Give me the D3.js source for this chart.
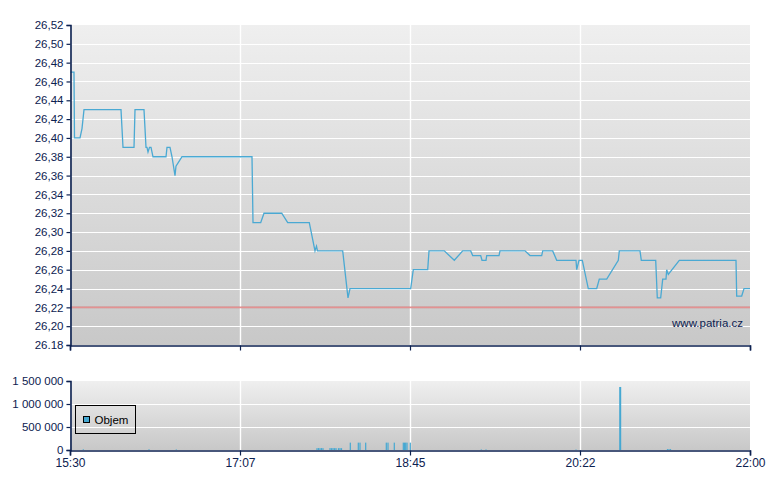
<!DOCTYPE html>
<html>
<head>
<meta charset="utf-8">
<script src="https://cdn.jsdelivr.net/npm/d3@7"></script>
<style>
  body { margin: 0; background: #fff; }
  svg { display: block; font-family: "Liberation Sans", Arial, sans-serif; }
  .axis path, .axis line { stroke: #0c2150; }
  .axis text { fill: #0c2150; }
</style>
</head>
<body>
<svg id="chart" width="780" height="490"></svg>
<script>
// minutes after 15:30 and price
const priceMinutes = [0.3, 2.29, 2.58, 5.74, 6.88, 8.03, 29.25, 30.4, 36.71, 37.28, 42.44, 43.59, 44.16, 44.74,
  45.6, 46.46, 47.6, 48.75, 55.06, 55.63, 57.35, 58.5, 60.22, 60.79, 64.24, 104.38, 104.96, 109.37, 111.26,
  121.42, 124.86, 137.24, 140.51, 141.37, 141.95, 156.4, 159.44, 160.59, 195.4, 196.89, 205.15, 205.9, 214.67,
  220.41, 225.22, 229.81, 230.96, 235.55, 236.29, 238.59, 238.99, 246.04, 246.62, 260.96, 263.82, 270.53,
  271.11, 276.84, 279.14, 290.21, 290.61, 291.93, 293.82, 297.26, 302.08, 303.57, 307.82, 314.47, 315.04,
  326.91, 327.66, 335.92, 336.83, 338.78, 339.93, 341.82, 342.22, 343.14, 349.45, 381.97, 382.37, 385.24,
  386.56, 390];
const priceValues = [26.47, 26.47, 26.40, 26.40, 26.41, 26.43, 26.43, 26.39, 26.39, 26.43, 26.43, 26.39, 26.39, 26.385,
  26.39, 26.39, 26.38, 26.38, 26.38, 26.39, 26.39, 26.38, 26.36, 26.37, 26.38, 26.38, 26.31, 26.31, 26.32,
  26.32, 26.31, 26.31, 26.28, 26.285, 26.28, 26.28, 26.23, 26.24, 26.24, 26.26, 26.26, 26.28, 26.28,
  26.27, 26.28, 26.28, 26.275, 26.275, 26.27, 26.27, 26.275, 26.275, 26.28, 26.28, 26.275, 26.275,
  26.28, 26.28, 26.27, 26.27, 26.26, 26.27, 26.27, 26.24, 26.24, 26.25, 26.25, 26.27, 26.28,
  26.28, 26.27, 26.27, 26.23, 26.23, 26.25, 26.25, 26.26, 26.255, 26.27, 26.27, 26.232, 26.232,
  26.24, 26.24];
const referencePrice = 26.22;

const volumeMinutes = [7.63, 45.31, 60.97, 141.66, 142.52, 143.38, 144.24, 145.1, 149.12, 149.98, 150.84, 151.7,
  152.56, 153.99, 154.85, 155.71, 160.76, 165.35, 166.32, 169.59, 181.41, 182.38, 185.99, 191.16, 191.85,
  192.53, 193.28, 195.17, 235.89, 238.59, 290.21, 315.33, 315.79, 342.68, 343.54, 344.4];
const volumeValues = [15000, 15000, 12000, 40000, 42000, 40000, 42000, 40000, 42000, 40000, 42000, 40000,
  42000, 40000, 42000, 40000, 160000, 160000, 160000, 160000, 160000, 160000, 160000, 160000, 160000,
  160000, 160000, 160000, 12000, 12000, 10000, 1370000, 1370000, 20000, 20000, 20000];

const priceTicks = [26.18, 26.20, 26.22, 26.24, 26.26, 26.28, 26.30, 26.32, 26.34, 26.36, 26.38, 26.40,
  26.42, 26.44, 26.46, 26.48, 26.50, 26.52];
const priceTickLabels = ["26.18", "26,20", "26,22", "26,24", "26,26", "26,28", "26,30", "26,32", "26,34",
  "26,36", "26,38", "26,40", "26,42", "26,44", "26,46", "26,48", "26,50", "26,52"];
const volumeTicks = [0, 500000, 1000000, 1500000];
const volumeTickLabels = ["0", "500 000", "1 000 000", "1 500 000"];
const timeTickMinutes = [0, 97.5, 195, 292.5, 390];
const legendLabel = "Objem";
const watermark = "www.patria.cz";

const svg = d3.select('#chart');
const start = new Date(2020, 0, 1, 15, 30);
const t = m => new Date(start.getTime() + m * 60000);

const left = 70, right = 750;
const priceTop = 25, priceBottom = 345;
const volTop = 381, volBottom = 450;

const x = d3.scaleTime().domain([t(0), t(390)]).range([left, right]);
const yP = d3.scaleLinear().domain([26.18, 26.52]).range([priceBottom, priceTop]);
const yV = d3.scaleLinear().domain([0, 1500000]).range([volBottom, volTop]);

// gradient background
const defs = svg.append('defs');
const grad = defs.append('linearGradient').attr('id', 'bg').attr('x1', 0).attr('y1', 0).attr('x2', 0).attr('y2', 1);
grad.append('stop').attr('offset', '0%').attr('stop-color', '#efefef');
grad.append('stop').attr('offset', '100%').attr('stop-color', '#c8c8c8');

function panel(top, bottom, y, ticks) {
  svg.append('rect').attr('x', left).attr('y', top).attr('width', right - left).attr('height', bottom - top)
    .attr('fill', 'url(#bg)');
  const g = svg.append('g');
  g.selectAll('.hg').data(ticks.filter(v => y(v) > top + 1 && y(v) < bottom - 1)).join('line')
    .attr('x1', left).attr('x2', right)
    .attr('y1', d => Math.round(y(d)) + 0.5).attr('y2', d => Math.round(y(d)) + 0.5)
    .attr('stroke', '#fff').attr('stroke-width', 1.2);
  g.selectAll('.vg').data(timeTickMinutes.slice(1, -1)).join('line')
    .attr('x1', d => Math.round(x(t(d))) + 0.5).attr('x2', d => Math.round(x(t(d))) + 0.5)
    .attr('y1', top).attr('y2', bottom)
    .attr('stroke', '#fff').attr('stroke-width', 1.4);
}

panel(priceTop, priceBottom, yP, priceTicks);
panel(volTop, volBottom, yV, volumeTicks);

// reference line
svg.append('line')
  .attr('x1', left).attr('x2', right)
  .attr('y1', yP(referencePrice)).attr('y2', yP(referencePrice))
  .attr('stroke', '#d96c6c').attr('stroke-opacity', 0.75).attr('stroke-width', 1.6);

// price line
const line = d3.line().x((d, i) => x(t(priceMinutes[i]))).y(d => yP(d));
svg.append('path').datum(priceValues)
  .attr('d', line)
  .attr('fill', 'none')
  .attr('stroke', '#4aa9d3')
  .attr('stroke-width', 1.3);

// volume bars
svg.append('g').selectAll('rect').data(volumeValues).join('rect')
  .attr('x', (d, i) => x(t(volumeMinutes[i])) - 0.6)
  .attr('width', 1.2)
  .attr('y', d => yV(d))
  .attr('height', d => volBottom - yV(d))
  .attr('fill', '#45a8d2');

// axes
const fmtTime = d3.timeFormat('%H:%M');
svg.append('g').attr('class', 'axis').attr('transform', `translate(${left + 0.5},0)`)
  .call(d3.axisLeft(yP).tickValues(priceTicks).tickSize(4).tickPadding(3)
    .tickFormat((d, i) => priceTickLabels[i]))
  .call(g => g.selectAll('text').style('font-size', '11.5px'));
svg.append('g').attr('class', 'axis').attr('transform', `translate(0,${priceBottom + 0.5})`)
  .call(d3.axisBottom(x).tickValues(timeTickMinutes.map(t)).tickSize(5).tickFormat(''));

svg.append('g').attr('class', 'axis').attr('transform', `translate(${left + 0.5},0)`)
  .call(d3.axisLeft(yV).tickValues(volumeTicks).tickSize(4).tickPadding(3)
    .tickFormat((d, i) => volumeTickLabels[i]))
  .call(g => g.selectAll('text').style('font-size', '11.5px'));
svg.append('g').attr('class', 'axis').attr('transform', `translate(0,${volBottom + 0.5})`)
  .call(d3.axisBottom(x).tickValues(timeTickMinutes.map(t)).tickSize(5).tickPadding(3).tickFormat(fmtTime))
  .call(g => g.selectAll('text').style('font-size', '12px'));
svg.selectAll('.axis .domain').attr('stroke-width', 1.6);
svg.selectAll('.axis line').attr('stroke-width', 1.2);

// legend
const lg = svg.append('g').attr('transform', 'translate(75.5,405.5)');
lg.append('rect').attr('width', 60).attr('height', 28).attr('fill', 'none').attr('stroke', '#000');
lg.append('rect').attr('x', 8).attr('y', 11).attr('width', 6).attr('height', 6)
  .attr('fill', '#45a8d2').attr('stroke', '#000');
lg.append('text').attr('x', 19).attr('y', 18.5).text(legendLabel)
  .style('font-size', '11.5px').attr('fill', '#000');

// watermark
svg.append('text').attr('x', 743).attr('y', 327).attr('text-anchor', 'end')
  .text(watermark).style('font-size', '11.5px').attr('fill', '#0c2150');
</script>
</body>
</html>
